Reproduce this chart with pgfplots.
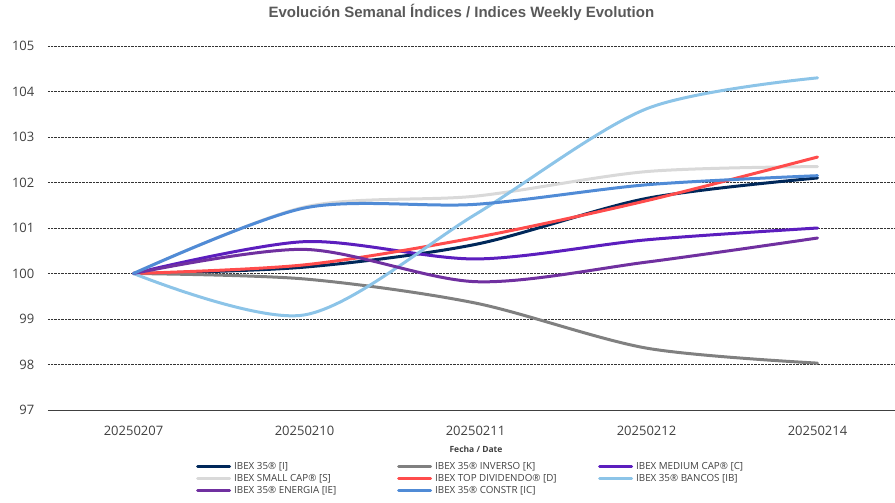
\documentclass[border=0pt]{standalone}
\usepackage{pgfplots}
\pgfplotsset{compat=1.18}
\usepackage{fontspec}
\setmainfont{Open Sans}
\newfontfamily\titlefont{Liberation Sans}
\definecolor{cI}{RGB}{0,40,90}
\definecolor{cK}{RGB}{128,128,128}
\definecolor{cC}{RGB}{92,30,190}
\definecolor{cS}{RGB}{217,217,217}
\definecolor{cD}{RGB}{255,76,76}
\definecolor{cIB}{RGB}{140,196,232}
\definecolor{cIE}{RGB}{112,48,160}
\definecolor{cIC}{RGB}{80,139,214}
\definecolor{txt}{RGB}{64,64,64}
\newcommand{\lgbox}[1]{\makebox[163pt][l]{#1}}
\begin{document}
\begin{tikzpicture}[x=1pt,y=1pt]
\path[use as bounding box] (-48,-93) rectangle (847,410);
\begin{axis}[
  at={(0,0)}, anchor=south west,
  scale only axis, width=847pt, height=364pt,
  xmin=-0.5, xmax=4.453, ymin=97, ymax=105,
  axis x line=bottom, axis y line=left,
  axis line style={-},
  y axis line style={draw=none},
  x axis line style={black!75, line width=0.8pt},
  xtick={0,1,2,3,4},
  xticklabels={20250207,20250210,20250211,20250212,20250214},
  major x tick style={draw=none},
  extra x ticks={-0.5,0.5,1.5,2.5,3.5},
  extra x tick labels={},
  extra x tick style={tick align=outside, major tick length=6pt, tick style={draw=black!75, line width=0.8pt}, grid=none},
  ytick={97,98,...,105},
  ytick style={draw=none},
  ymajorgrids,
  major grid style={densely dotted, black!80, line width=0.7pt},
  tick label style={font=\fontsize{13}{15}\selectfont, text=txt},
  xticklabel style={yshift=-10pt},
  yticklabel style={xshift=-8pt},
  /pgf/number format/assume math mode=true,
  xlabel={Fecha / Date},
  xlabel style={at={(axis description cs:0.5053,0)}, anchor=center, yshift=-39pt, font=\bfseries\fontsize{8.5}{10}\selectfont, text=txt},
  title={Evolución Semanal Índices / Indices Weekly Evolution},
  title style={at={(axis description cs:0.488,1)}, anchor=center, yshift=28pt, font=\titlefont\bfseries\fontsize{15}{17}\selectfont, text=black!65},
  legend columns=3,
  legend cell align=left,
  legend image code/.code={\draw[#1, line width=3pt] (0pt,0pt) -- (32pt,0pt);},
  legend style={draw=none, fill=none, at={(axis description cs:0.1747,-0.138)}, anchor=north west,
    font=\fontsize{9.8}{11}\selectfont, text=txt, inner sep=0pt, row sep=0pt,
    nodes={inner sep=0pt, text depth=3pt, text height=9pt},
    /tikz/every odd column/.append style={column sep=3pt}},
  every axis plot/.append style={smooth, line width=3pt, line cap=round},
  clip=false,
]
\addplot[cI] coordinates {(0,100) (1,100.14) (2,100.64) (3,101.65) (4,102.1)};
\addlegendentry{\lgbox{IBEX 35® [I]}}
\addplot[cK] coordinates {(0,100) (1,99.88) (2,99.35) (3,98.36) (4,98.03)};
\addlegendentry{\lgbox{IBEX 35® INVERSO [K]}}
\addplot[cC] coordinates {(0,100) (1,100.7) (2,100.32) (3,100.74) (4,101.0)};
\addlegendentry{\lgbox{IBEX MEDIUM CAP® [C]}}
\addplot[cS] coordinates {(0,100) (1,101.46) (2,101.7) (3,102.24) (4,102.35)};
\addlegendentry{\lgbox{IBEX SMALL CAP® [S]}}
\addplot[cD] coordinates {(0,100) (1,100.19) (2,100.79) (3,101.6) (4,102.56)};
\addlegendentry{\lgbox{IBEX TOP DIVIDENDO® [D]}}
\addplot[cIB] coordinates {(0,100) (1,99.09) (2,101.3) (3,103.62) (4,104.3)};
\addlegendentry{\lgbox{IBEX 35® BANCOS [IB]}}
\addplot[cIE] coordinates {(0,100) (1,100.53) (2,99.82) (3,100.25) (4,100.78)};
\addlegendentry{\lgbox{IBEX 35® ENERGIA [IE]}}
\addplot[cIC] coordinates {(0,100) (1,101.44) (2,101.52) (3,101.95) (4,102.15)};
\addlegendentry{\lgbox{IBEX 35® CONSTR [IC]}}
\end{axis}
\end{tikzpicture}
\end{document}
